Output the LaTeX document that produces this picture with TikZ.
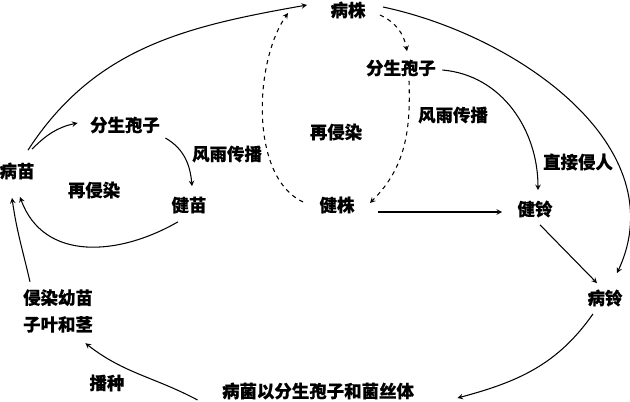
\documentclass[tikz,border=0pt]{standalone}
\usepackage{fontspec}
\newfontfamily\cjk[FakeBold=0.3]{Noto Sans CJK SC}
\usetikzlibrary{calc}
\usetikzlibrary{arrows}

\begin{document}
\begin{tikzpicture}[->, >=stealth, x=0.025cm, y=-0.025cm, line width=0.75pt, font=\cjk\bfseries\fontsize{12.4}{19}\selectfont]
    \tikzstyle{stage}=[inner sep=0pt]
    \tikzstyle{annot}=[inner sep=0pt]
    \tikzstyle{spread}=[dashed]

    \useasboundingbox (0,0) rectangle (630,401);

	%% Seedling stage
	\node[stage] (bm) at (17,171) {病苗};
	\node[stage] (fsL) at (125,125) {分生孢子};
	\node[stage] (jm) at (189,205) {健苗};
	\node[stage, align=left] (qr) at (58,311) {侵染幼苗\\子叶和茎};
	\node[stage] (bj) at (318,391) {病菌以分生孢子和菌丝体};

	%% Plant and boll stage
	\node[stage] (bz) at (348,10) {病株};
	\node[stage] (fsR) at (401,68) {分生孢子};
	\node[stage] (jz) at (337,205) {健株};
	\node[stage] (jl) at (535,209) {健铃};
	\node[stage] (bl) at (605,298) {病铃};

	\node[annot] at (227,154) {风雨传播};
	\node[annot] at (94,190) {再侵染};
	\node[annot] at (336,132) {再侵染};
	\node[annot] at (453,115) {风雨传播};
	\node[annot] at (578,162) {直接侵人};
	\node[annot] at (107,383) {播种};

	%% seedling cycle
	\draw ($(bm.north)+(11,-12)$) to[out=57, in=190] ($(bz.west)+(-23,-5)$);
	\draw ($(bm.north)+(15,-13)$) to[out=45, in=192] ($(fsL.west)+(-12,-2)$);
	\draw ($(fsL.east)+(5,13)$) to[out=-30, in=95] ($(jm.north)+(3,-10)$);
	\draw ($(jm.south)+(-11,8)$) to[out=210, in=-70, looseness=1.1] ($(bm.south)+(3,17)$);
	\draw ($(qr.north)+(-28,-7)$) to[out=103, in=-82] ($(bm.south)+(-5,18)$);
	\draw ($(bj.west)+(-24,9)$) to[out=152, in=-38] ($(qr.south east)+(-8,10)$);

	%% plant cycle
	\draw ($(bz.east)+(17,-3)$) to[out=-12, in=65] ($(bl.north)+(12,-16)$);
	\draw ($(fsR.east)+(6,2)$) to[out=-5, in=90] ($(jl.north)+(3,-10)$);
	\draw ($(jz.east)+(23,7)$) -- ($(jl.west)+(-15,3)$);
	\draw ($(jl.south)+(5,7)$) -- ($(bl.north)+(-8,-6)$);
	\draw ($(bl.south)+(-12,7)$) to[out=235, in=15] ($(bj.east)+(43,7)$);

	%% re-infection
	\draw[spread] ($(bz.east)+(14,5)$) to[out=-25, in=100] ($(fsR.north)+(6,-8)$);
	\draw[spread] ($(fsR.south)+(8,4)$) to[out=-88, in=45] ($(jz.east)+(15,-2)$);
	\draw[spread] ($(jz.west)+(-16,-3)$) to[out=155, in=235, looseness=0.8] ($(bz.west)+(-42,3)$);
\end{tikzpicture}
\end{document}
